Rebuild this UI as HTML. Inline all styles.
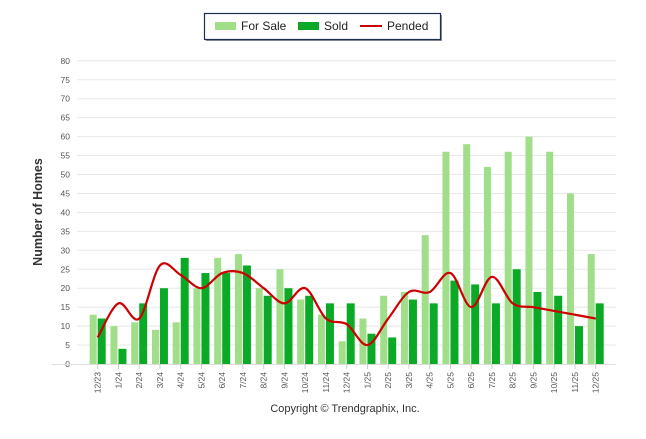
<!DOCTYPE html>
<html><head><meta charset="utf-8"><style>
body{margin:0;background:#fff;font-family:"Liberation Sans",sans-serif}
svg text{font-family:"Liberation Sans",sans-serif}
</style></head><body>
<svg id="c" width="646" height="434" viewBox="0 0 646 434">
<g>
<rect x="206" y="15" width="236" height="26" fill="#8a8f99"/>
<rect x="204.5" y="13.5" width="236" height="26" fill="#fff" stroke="#1f2d50" stroke-width="1.2"/>
<rect x="215" y="22" width="21" height="8" fill="#a0de8a"/>
<text x="241" y="30" font-size="12" fill="#222">For Sale</text>
<rect x="298" y="22" width="21" height="8" fill="#0baa26"/>
<text x="324" y="30" font-size="12" fill="#222">Sold</text>
<line x1="360" y1="26" x2="382" y2="26" stroke="#cc0000" stroke-width="2"/>
<text x="387" y="30" font-size="12" fill="#222">Pended</text>
</g>
<text transform="translate(42,212) rotate(-90)" text-anchor="middle" font-size="12.5" font-weight="bold" fill="#333">Number of Homes</text>
<text x="345" y="412" text-anchor="middle" font-size="11" fill="#333">Copyright © Trendgraphix, Inc.</text>
<g id="grid"></g><g id="bars"></g><g id="line"></g><g id="axes"></g>
</svg>
<script>
const categories=["12/23","1/24","2/24","3/24","4/24","5/24","6/24","7/24","8/24","9/24","10/24","11/24","12/24","1/25","2/25","3/25","4/25","5/25","6/25","7/25","8/25","9/25","10/25","11/25","12/25"];
const forSale=[13,10,11,9,11,20,28,29,20,25,17,13,6,12,18,19,34,56,58,52,56,60,56,45,29];
const sold=[12,4,16,20,28,24,24,26,18,20,18,16,16,8,7,17,16,22,21,16,25,19,18,10,16];
const pended=[7,16,12,26,23.5,20,24,24,20,16,20,12,10.5,5,12,19,19,24,15,23,16,15,14,13,12];
const yTicks=[0,5,10,15,20,25,30,35,40,45,50,55,60,65,70,75,80];
const NS="http://www.w3.org/2000/svg";
const y=v=>364-v*3.79;
const x=i=>97.7+i*20.75;
function mk(t,a,p){const e=document.createElementNS(NS,t);for(const k in a)e.setAttribute(k,a[k]);p.appendChild(e);return e;}
const G=document.getElementById('grid'),B=document.getElementById('bars'),L=document.getElementById('line'),A=document.getElementById('axes');
yTicks.forEach(t=>{
 if(t>0){const g=mk('line',{x1:77,x2:616,y1:y(t),y2:y(t),stroke:'#e8e8e8'},G);
 
 }
 const tx=mk('text',{x:70,y:y(t)+3,'text-anchor':'end','font-size':8.5,fill:'#555'},A);tx.textContent=t;
 
 
});
const ax=mk('line',{x1:52,x2:616,y1:364.5,y2:364.5,stroke:'#ddd'},A);


categories.forEach((c,i)=>{
 const cx=x(i);
 const r1=mk('rect',{x:cx-8,y:y(forSale[i]),width:7,height:forSale[i]*3.79,fill:'#a0de8a'},B);
 
 
 const r2=mk('rect',{x:cx,y:y(sold[i]),width:8,height:sold[i]*3.79,fill:'#0baa26'},B);
 
 
 const tk=mk('line',{x1:cx,x2:cx,y1:364,y2:369,stroke:'#ccc'},A);
 
 
 const t=mk('text',{transform:`translate(${cx+3},372) rotate(-90)`,'text-anchor':'end','font-size':8.5,fill:'#555'},A);t.textContent=c;
 
 
});
const pts=pended.map((v,i)=>[x(i),y(v)]);
let d=`M${pts[0][0]},${pts[0][1]}`;
for(let i=0;i<pts.length-1;i++){
 const p0=pts[Math.max(0,i-1)],p1=pts[i],p2=pts[i+1],p3=pts[Math.min(pts.length-1,i+2)];
 const k=1/6;
 d+=` C${p1[0]+(p2[0]-p0[0])*k},${p1[1]+(p2[1]-p0[1])*k} ${p2[0]-(p3[0]-p1[0])*k},${p2[1]-(p3[1]-p1[1])*k} ${p2[0]},${p2[1]}`;
}
const pl=mk('path',{d:d,fill:'none',stroke:'#cc0000','stroke-width':2.2},L);


</script>
</body></html>
